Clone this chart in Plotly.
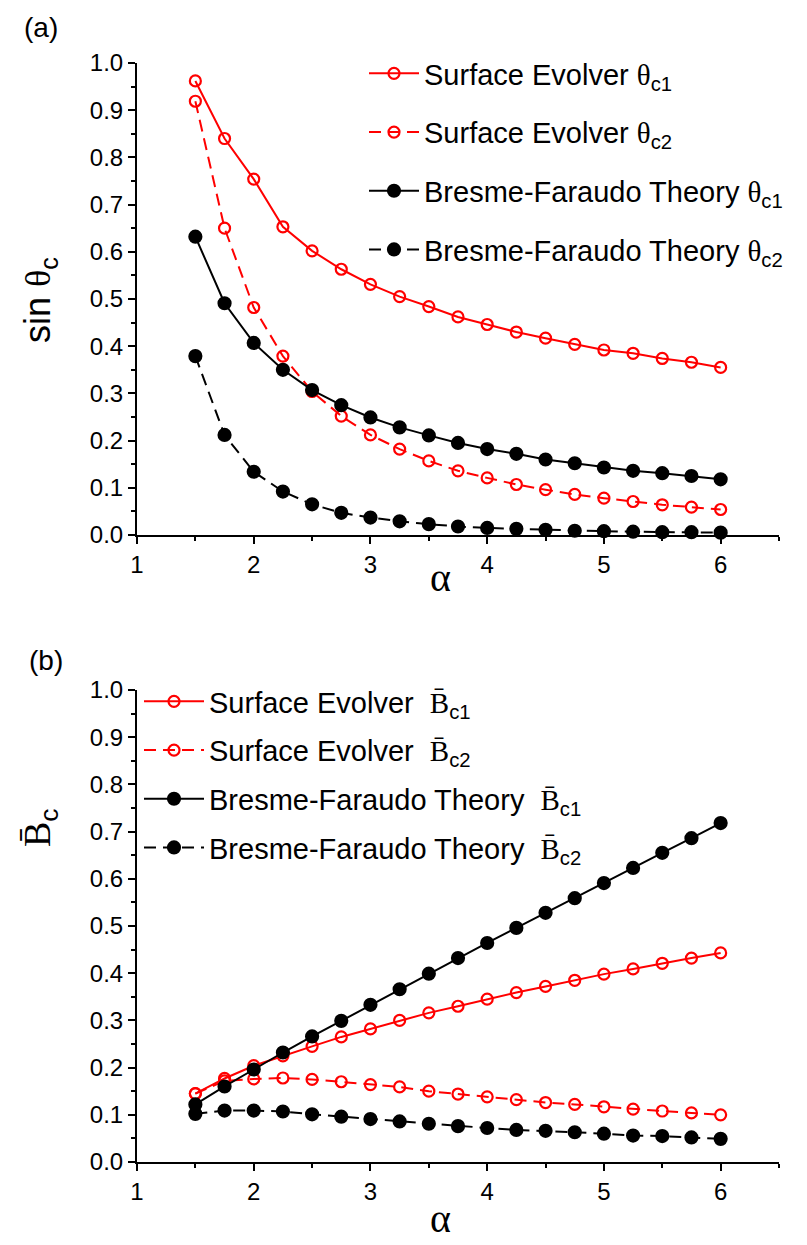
import plotly.graph_objects as go

alpha = [1.5, 1.75, 2.0, 2.25, 2.5, 2.75, 3.0, 3.25, 3.5, 3.75, 4.0,
         4.25, 4.5, 4.75, 5.0, 5.25, 5.5, 5.75, 6.0]

# panel (a): sin(theta_c)
se_theta_c1 = [0.962, 0.840, 0.754, 0.653, 0.602, 0.563, 0.531, 0.505, 0.484, 0.462,
               0.446, 0.430, 0.417, 0.404, 0.392, 0.385, 0.374, 0.366, 0.355]
se_theta_c2 = [0.919, 0.650, 0.482, 0.379, 0.304, 0.252, 0.212, 0.182, 0.157, 0.136,
               0.121, 0.107, 0.096, 0.086, 0.078, 0.071, 0.064, 0.059, 0.054]
bf_theta_c1 = [0.632, 0.491, 0.407, 0.350, 0.307, 0.275, 0.249, 0.228, 0.211, 0.195,
               0.182, 0.172, 0.160, 0.152, 0.143, 0.136, 0.131, 0.125, 0.118]
bf_theta_c2 = [0.379, 0.212, 0.134, 0.092, 0.065, 0.047, 0.037, 0.029, 0.023, 0.018,
               0.015, 0.013, 0.011, 0.009, 0.008, 0.007, 0.006, 0.006, 0.005]

# panel (b): B_c
se_b_c1 = [0.145, 0.177, 0.204, 0.225, 0.245, 0.265, 0.282, 0.300, 0.316, 0.330,
           0.345, 0.359, 0.372, 0.385, 0.398, 0.409, 0.421, 0.432, 0.443]
se_b_c2 = [0.145, 0.172, 0.176, 0.178, 0.175, 0.170, 0.164, 0.159, 0.150, 0.144,
           0.138, 0.132, 0.126, 0.122, 0.117, 0.112, 0.108, 0.104, 0.100]
bf_b_c1 = [0.122, 0.160, 0.196, 0.232, 0.266, 0.299, 0.333, 0.366, 0.399, 0.432,
           0.464, 0.496, 0.528, 0.559, 0.591, 0.623, 0.655, 0.686, 0.718]
bf_b_c2 = [0.102, 0.109, 0.109, 0.107, 0.101, 0.096, 0.091, 0.086, 0.081, 0.076,
           0.072, 0.068, 0.066, 0.063, 0.060, 0.056, 0.055, 0.052, 0.049]

RED = "#ff0000"
BLACK = "#000000"
SANS = "Liberation Sans, Arial, sans-serif"
SERIF = "Liberation Serif"
DASH = "12px,7px"

TH = f"<span style=\"font-family:'{SERIF}'\">θ</span>"
BB = f"<span style=\"font-family:'{SERIF}'\">B̄</span>"

fig = go.Figure()


def add(x, y, name, color, dash, filled, xa, ya, legend, group):
    fig.add_trace(go.Scatter(
        x=x, y=y, name=name, mode="lines+markers",
        xaxis=xa, yaxis=ya, legend=legend, legendgroup=group,
        cliponaxis=False,
        line=dict(color=color, width=2, dash=dash),
        marker=dict(
            symbol="circle" if filled else "circle-open",
            size=12 if filled else 11,
            color=color,
            line=dict(color=color, width=2.2),
        ),
    ))


add(alpha, se_theta_c1, f"Surface Evolver {TH}<sub>c1</sub>", RED, "solid", False, "x", "y", "legend", "a1")
add(alpha, se_theta_c2, f"Surface Evolver {TH}<sub>c2</sub>", RED, DASH, False, "x", "y", "legend", "a2")
add(alpha, bf_theta_c1, f"Bresme-Faraudo Theory {TH}<sub>c1</sub>", BLACK, "solid", True, "x", "y", "legend", "a3")
add(alpha, bf_theta_c2, f"Bresme-Faraudo Theory {TH}<sub>c2</sub>", BLACK, DASH, True, "x", "y", "legend", "a4")

add(alpha, se_b_c1, f"Surface Evolver  {BB}<sub>c1</sub>", RED, "solid", False, "x2", "y2", "legend2", "b1")
add(alpha, se_b_c2, f"Surface Evolver  {BB}<sub>c2</sub>", RED, DASH, False, "x2", "y2", "legend2", "b2")
add(alpha, bf_b_c1, f"Bresme-Faraudo Theory  {BB}<sub>c1</sub>", BLACK, "solid", True, "x2", "y2", "legend2", "b3")
add(alpha, bf_b_c2, f"Bresme-Faraudo Theory  {BB}<sub>c2</sub>", BLACK, DASH, True, "x2", "y2", "legend2", "b4")

# page has an 8px body margin; work in page pixels and convert
OFF = 8
W, H = 807 - OFF, 1245 - OFF
# plot-area edges in page pixels
PX0, PX1 = 137, 779
PY_BOT = 1162
L = PX0 - OFF
R = W - (PX1 - OFF)
T = 63 - OFF
B = H - (PY_BOT - OFF)
ph = H - T - B
pw = W - L - R


def py(pix):
    return (PY_BOT - pix) / ph


def px(pix):
    return (pix - PX0) / pw


xaxis_common = dict(
    range=[1, 6.5], dtick=1, tick0=1, showline=True, linecolor="black", linewidth=2,
    ticks="outside", ticklen=7, tickwidth=2, tickcolor="black",
    minor=dict(dtick=0.5, tick0=1, ticks="outside", ticklen=4, tickwidth=2, tickcolor="black"),
    showgrid=False, zeroline=False, mirror=False,
    tickfont=dict(family=SANS, size=24, color="black"),
)
yaxis_common = dict(
    range=[0, 1.0], dtick=0.1, tick0=0, tickformat=".1f", showline=True, linecolor="black",
    linewidth=2, ticks="outside", ticklen=7, tickwidth=2, tickcolor="black",
    minor=dict(dtick=0.05, tick0=0, ticks="outside", ticklen=4, tickwidth=2, tickcolor="black"),
    showgrid=False, zeroline=False, mirror=False,
    tickfont=dict(family=SANS, size=24, color="black"),
)

legend_common = dict(
    font=dict(family=SANS, size=29, color="black"),
    bgcolor="rgba(0,0,0,0)", borderwidth=0, xanchor="left", yanchor="top",
    itemclick=False,
)

fig.update_layout(
    width=W, height=H,
    margin=dict(l=L, r=R, t=T, b=B, pad=0),
    paper_bgcolor="white", plot_bgcolor="white",
    showlegend=True,
    xaxis=dict(**xaxis_common, domain=[0, 1], anchor="y"),
    yaxis=dict(**yaxis_common, domain=[py(535), py(63)], anchor="x"),
    xaxis2=dict(**xaxis_common, domain=[0, 1], anchor="y2"),
    yaxis2=dict(**yaxis_common, domain=[0, py(690)], anchor="x2"),
    legend=dict(**legend_common, x=px(364), y=py(48), itemwidth=50, tracegroupgap=18),
    legend2=dict(**legend_common, x=px(139), y=py(676), itemwidth=60, tracegroupgap=8),
)

ann = [
    dict(text="(a)", x=px(22), y=py(10), xanchor="left", yanchor="top",
         font=dict(family=SANS, size=28, color="black")),
    dict(text="(b)", x=px(27), y=py(660), xanchor="left", yanchor="middle",
         font=dict(family=SANS, size=28, color="black")),
    dict(text=f"sin {TH}<sub>c</sub>", x=px(40), y=py(300), xanchor="center", yanchor="middle",
         textangle=-90, font=dict(family=SANS, size=36, color="black")),
    dict(text=f"{BB}<sub>c</sub>", x=px(40), y=py(828), xanchor="center", yanchor="middle",
         textangle=-90, font=dict(family=SANS, size=38, color="black")),
    dict(text="α", x=px(440), y=py(577), xanchor="center", yanchor="middle",
         font=dict(family=SERIF, size=40, color="black")),
    dict(text="α", x=px(440), y=py(1218), xanchor="center", yanchor="middle",
         font=dict(family=SERIF, size=40, color="black")),
]
for a in ann:
    a.update(xref="paper", yref="paper", showarrow=False)
fig.update_layout(annotations=ann)

fig.write_html("out.html")
